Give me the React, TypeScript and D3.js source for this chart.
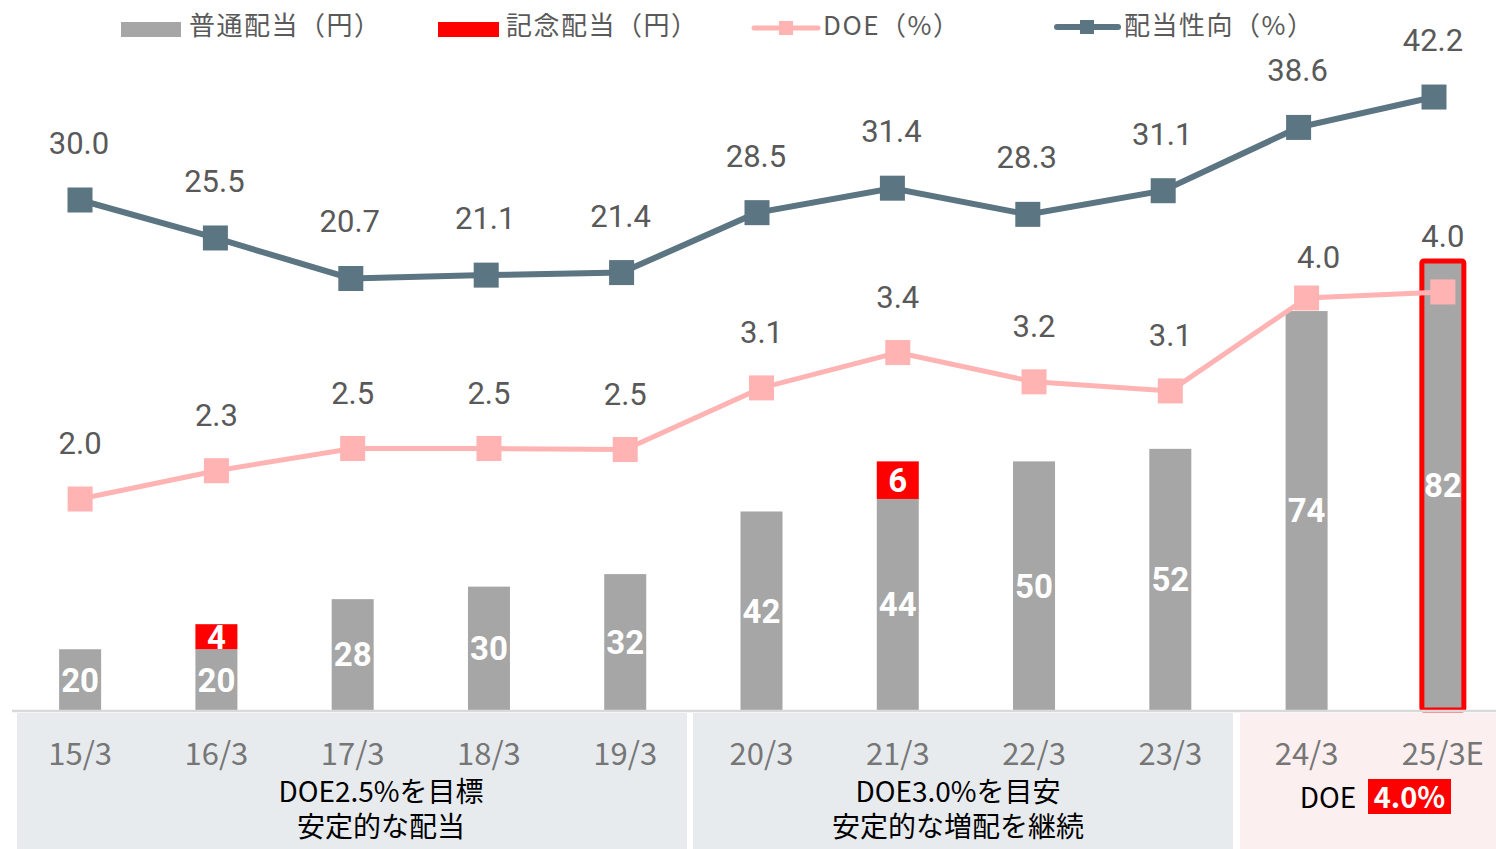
import React from "react";
import * as d3 from "d3";

const categories = ["15/3", "16/3", "17/3", "18/3", "19/3", "20/3", "21/3", "22/3", "23/3", "24/3", "25/3E"];
const regularDiv = [20, 20, 28, 30, 32, 42, 44, 50, 52, 74, 82];
const commemorativeDiv = [0, 4, 0, 0, 0, 0, 6, 0, 0, 0, 0];
const doeValues = [2.0, 2.28, 2.5, 2.5, 2.49, 3.1, 3.45, 3.16, 3.07, 3.99, 4.05];
const doeLabels = ["2.0", "2.3", "2.5", "2.5", "2.5", "3.1", "3.4", "3.2", "3.1", "4.0", "4.0"];
const payoutValues = [30.0, 25.5, 20.7, 21.1, 21.4, 28.5, 31.4, 28.3, 31.1, 38.6, 42.2];

const legendItems = ["普通配当（円）", "記念配当（円）", "DOE（%）", "配当性向（%）"];

const W = 1496;
const H = 849;
const GRAY = "#a6a6a6";
const RED = "#ff0000";
const PINK = "#ffb3b3";
const DARK = "#5b7582";
const LABEL = "#595959";
const JP = "'Noto Sans CJK JP', 'Noto Sans', sans-serif";
const NUM = "Roboto, 'Noto Sans', sans-serif";

const App = () => {
  const x = d3.scaleBand<string>().domain(categories).range([12, 1511]).paddingInner(0).paddingOuter(0);
  const xc = (c: string) => (x(c) as number) + x.bandwidth() / 2;
  const xDark = d3.scalePoint<string>().domain(categories).range([80, 1434]);
  const barW = 42;

  // bar axis does not start at zero in the original
  const yBar = d3.scaleLinear().domain([10.3, 120]).range([710, 23]);
  const yDoe = d3.scaleLinear().domain([0, 6.5]).range([701, 44.5]);
  const yPay = d3.scaleLinear().domain([-30, 50]).range([706.4, 31.2]);

  const doeLine = d3
    .line<number>()
    .x((_, i) => xc(categories[i]))
    .y((d) => yDoe(d));
  const payLine = d3
    .line<number>()
    .x((_, i) => xDark(categories[i]) as number)
    .y((d) => yPay(d));

  const base = yBar.range()[0];
  const last = categories.length - 1;

  // the 24/3 DOE label sits off to the right in the original
  const doeLabelShift = (i: number) => (i === 9 ? { dx: 12, dy: 15 } : { dx: 0, dy: 0 });

  return (
    <svg width={W} height={H} style={{ position: "fixed", left: 0, top: 0, background: "#fff" }}>
      {/* bars */}
      {categories.map((c, i) => {
        const cx = xc(c);
        const top = yBar(regularDiv[i]);
        const topC = yBar(regularDiv[i] + commemorativeDiv[i]);
        return (
          <g key={c}>
            <rect
              x={cx - barW / 2}
              y={top}
              width={barW}
              height={base - top}
              fill={GRAY}
              stroke={i === last ? RED : "none"}
              strokeWidth={i === last ? 5 : 0}
              rx={i === last ? 2 : 0}
            />
            {commemorativeDiv[i] > 0 && (
              <rect x={cx - barW / 2} y={topC} width={barW} height={top - topC} fill={RED} />
            )}
            <text
              x={cx}
              y={(top + base) / 2}
              dy="0.36em"
              textAnchor="middle"
              fontFamily={NUM}
              fontWeight="bold"
              fontSize={33}
              fill="#fff"
            >
              {regularDiv[i]}
            </text>
            {commemorativeDiv[i] > 0 && (
              <text
                x={cx}
                y={(top + topC) / 2}
                dy="0.36em"
                textAnchor="middle"
                fontFamily={NUM}
                fontWeight="bold"
                fontSize={33}
                fill="#fff"
              >
                {commemorativeDiv[i]}
              </text>
            )}
          </g>
        );
      })}

      {/* DOE line */}
      <path d={doeLine(doeValues) as string} fill="none" stroke={PINK} strokeWidth={5} />
      {doeValues.map((v, i) => (
        <g key={"d" + i}>
          <rect x={xc(categories[i]) - 12.5} y={yDoe(v) - 12.5} width={25} height={25} fill={PINK} />
          <text
            x={xc(categories[i]) + doeLabelShift(i).dx}
            y={yDoe(v) - 45 + doeLabelShift(i).dy}
            textAnchor="middle"
            fontFamily={NUM}
            fontSize={31}
            fill={LABEL}
          >
            {doeLabels[i]}
          </text>
        </g>
      ))}

      {/* payout ratio line */}
      <path d={payLine(payoutValues) as string} fill="none" stroke={DARK} strokeWidth={6} />
      {payoutValues.map((v, i) => (
        <g key={"p" + i}>
          <rect
            x={(xDark(categories[i]) as number) - 12.5}
            y={yPay(v) - 12.5}
            width={25}
            height={25}
            fill={DARK}
          />
          <text
            x={(xDark(categories[i]) as number) - 1}
            y={yPay(v) - 46}
            textAnchor="middle"
            fontFamily={NUM}
            fontSize={31}
            fill={LABEL}
          >
            {v.toFixed(1)}
          </text>
        </g>
      ))}

      {/* bottom panels */}
      <rect x={17} y={713} width={670} height={140} fill="#e8ebee" />
      <rect x={693} y={713} width={540} height={140} fill="#e8ebee" />
      <rect x={1240} y={713} width={260} height={140} fill="#fcefef" />
      <line x1={12} x2={W} y1={711} y2={711} stroke="#d9d9d9" strokeWidth={2.5} />

      {categories.map((c) => (
        <text key={"c" + c} x={xc(c)} y={765} textAnchor="middle" fontFamily={JP} fontSize={31} fill="#767676">
          {c}
        </text>
      ))}

      <g fontFamily={JP} fontSize={28} fill="#000" textAnchor="middle">
        <text x={381} y={802}>DOE2.5%を目標</text>
        <text x={381} y={837}>安定的な配当</text>
        <text x={958} y={802}>DOE3.0%を目安</text>
        <text x={958} y={837}>安定的な増配を継続</text>
        <text x={1328} y={808}>DOE</text>
      </g>
      <rect x={1368} y={779} width={83} height={35} fill={RED} />
      <text x={1409.5} y={808} textAnchor="middle" fontFamily={JP} fontWeight="bold" fontSize={29} fill="#fff">
        4.0%
      </text>

      {/* legend */}
      <g fontFamily={JP} fontSize={26} fill={LABEL} letterSpacing={1.5}>
        <rect x={121} y={22} width={60} height={15} fill={GRAY} />
        <text x={189} y={35}>{legendItems[0]}</text>
        <rect x={438} y={22} width={61} height={15} fill={RED} />
        <text x={506} y={35}>{legendItems[1]}</text>
        <line x1={754} x2={818} y1={28} y2={28} stroke={PINK} strokeWidth={5} strokeLinecap="round" />
        <rect x={779} y={21} width={14} height={14} fill={PINK} />
        <text x={823} y={35}>{legendItems[2]}</text>
        <line x1={1057} x2={1118} y1={27} y2={27} stroke={DARK} strokeWidth={6} strokeLinecap="round" />
        <rect x={1080} y={20} width={14} height={14} fill={DARK} />
        <text x={1124} y={35}>{legendItems[3]}</text>
      </g>
    </svg>
  );
};

export default App;
